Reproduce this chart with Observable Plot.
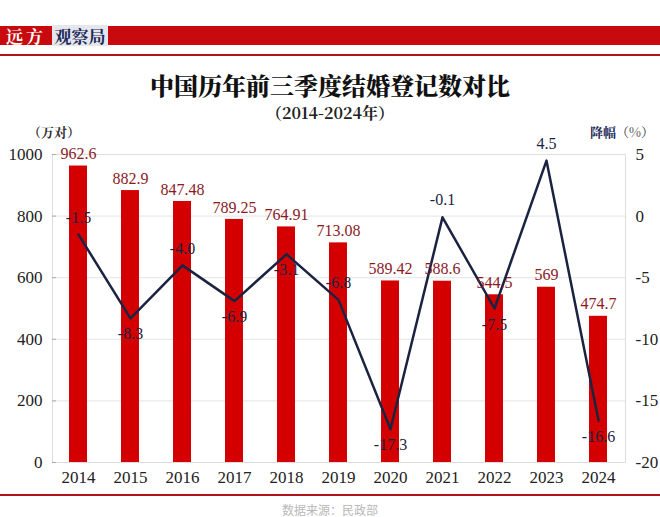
<!DOCTYPE html>
<html>
<head>
<meta charset="utf-8">
<script src="https://cdn.jsdelivr.net/npm/d3@7"></script>
<script src="https://cdn.jsdelivr.net/npm/@observablehq/plot@0.6"></script>
<style>
  html, body { margin: 0; padding: 0; background: #fff; }
  #page { position: relative; width: 660px; height: 517px; overflow: hidden; background: #fff; }
  .abs { position: absolute; white-space: nowrap; }
  .cjk { font-family: "Noto Serif CJK SC", "Noto Sans CJK SC", serif; }
  .sans { font-family: "Noto Sans CJK SC", sans-serif; }
  #chart { position: absolute; left: 0; top: 120px; }
  #chart svg, #chart svg text { font-family: "Liberation Serif", "DejaVu Serif", serif !important; }
</style>
</head>
<body>
<div id="page">
  <div class="abs" style="left:0;top:26px;width:660px;height:19px;background:#c80a0e;"></div>
  <div class="abs cjk" style="left:6px;top:26px;height:19px;line-height:19px;font-size:17px;font-weight:700;color:#fff;letter-spacing:3px;">远方</div>
  <div class="abs cjk" style="left:52px;top:25px;width:56px;height:21px;line-height:21px;background:#e6e7ec;color:#1d2a5a;font-size:17px;font-weight:700;text-align:center;">观察局</div>
  <div class="abs" style="left:0;top:54px;width:660px;height:2px;background:#b3141a;"></div>
  <div class="abs cjk" style="left:0;top:70px;width:660px;text-align:center;font-size:24px;font-weight:900;color:#111;line-height:30px;">中国历年前三季度结婚登记数对比</div>
  <div class="abs cjk" style="left:0;top:102px;width:660px;text-align:center;font-size:16px;font-weight:700;color:#222;line-height:22px;">（2014-2024年）</div>
  <div class="abs cjk" style="left:28px;top:123px;font-size:13px;font-weight:700;color:#333;line-height:18px;">（万对）</div>
  <div class="abs cjk" style="left:590px;top:123px;font-size:13px;line-height:18px;color:#1d2a5a;"><b>降幅</b><span style="color:#333">（%）</span></div>
  <div id="chart"></div>
  <div class="abs" style="left:0;top:494px;width:660px;height:2px;background:#b3141a;"></div>
  <div class="abs sans" style="left:0;top:503px;width:660px;text-align:center;font-size:12px;color:#b8b8b8;line-height:14px;">数据来源：民政部</div>
</div>
<script>
const years = ["2014","2015","2016","2017","2018","2019","2020","2021","2022","2023","2024"];
const marriages = [962.6, 882.9, 847.48, 789.25, 764.91, 713.08, 589.42, 588.6, 544.5, 569, 474.7];
const marriageLabels = ["962.6","882.9","847.48","789.25","764.91","713.08","589.42","588.6","544.5","569","474.7"];
const changes = [-1.5, -8.3, -4.0, -6.9, -3.1, -6.8, -17.3, -0.1, -7.5, 4.5, -16.6];
const changeLabels = ["-1.5","-8.3","-4.0","-6.9","-3.1","-6.8","-17.3","-0.1","-7.5","4.5","-16.6"];
const changeLabelSide = ["above","below","above","below","below","above","below","above","below","above","below"];
const leftTicks = [0, 200, 400, 600, 800, 1000];
const rightTicks = [5, 0, -5, -10, -15, -20];

// percent axis (-20..5) shares the vertical extent of the count axis (0..1000)
const pctToY = p => (p + 20) * 40;

const data = years.map((year, i) => ({
  year,
  value: marriages[i],
  valueLabel: marriageLabels[i],
  change: changes[i],
  changeLabel: changeLabels[i],
  side: changeLabelSide[i]
}));

const navy = "#1b2340";

const chart = Plot.plot({
  width: 660,
  height: 375,
  marginTop: 34,
  marginBottom: 33,
  marginLeft: 52,
  marginRight: 35,
  style: { fontSize: "17px", color: "#222", background: "transparent" },
  x: { domain: years, paddingInner: 0.65, paddingOuter: 0.325, label: null },
  y: { domain: [0, 1000], label: null },
  marks: [
    Plot.gridY(leftTicks, { stroke: "#e4e4e4", strokeOpacity: 1 }),
    Plot.frame({ stroke: "#dddddd" }),
    Plot.barY(data, { x: "year", y: "value", fill: "#d40000" }),
    Plot.line(data, { x: "year", y: d => pctToY(d.change), stroke: navy, strokeWidth: 2.5 }),
    Plot.text(data, { x: "year", y: "value", text: "valueLabel", dy: -12, fill: "#8b1a1f", fontSize: 16 }),
    Plot.text(data.filter(d => d.side === "above"), { x: "year", y: d => pctToY(d.change), text: "changeLabel", dy: -17, fill: navy, fontSize: 16 }),
    Plot.text(data.filter(d => d.side === "below"), { x: "year", y: d => pctToY(d.change), text: "changeLabel", dy: 16, fill: navy, fontSize: 16 }),
    Plot.axisY(leftTicks, { anchor: "left", tickSize: -4, tickPadding: 14, tickFormat: d => String(d), stroke: "#aaa", fill: "#222", fontSize: 17, label: null }),
    Plot.axisY(rightTicks.map(pctToY), { anchor: "right", tickSize: 0, tickPadding: 10, tickFormat: d => String(d / 40 - 20), fill: "#222", fontSize: 17, label: null }),
    Plot.axisX({ tickSize: 0, tickPadding: 8, fill: "#222", fontSize: 17, label: null })
  ]
});
document.getElementById("chart").appendChild(chart);
</script>
</body>
</html>
